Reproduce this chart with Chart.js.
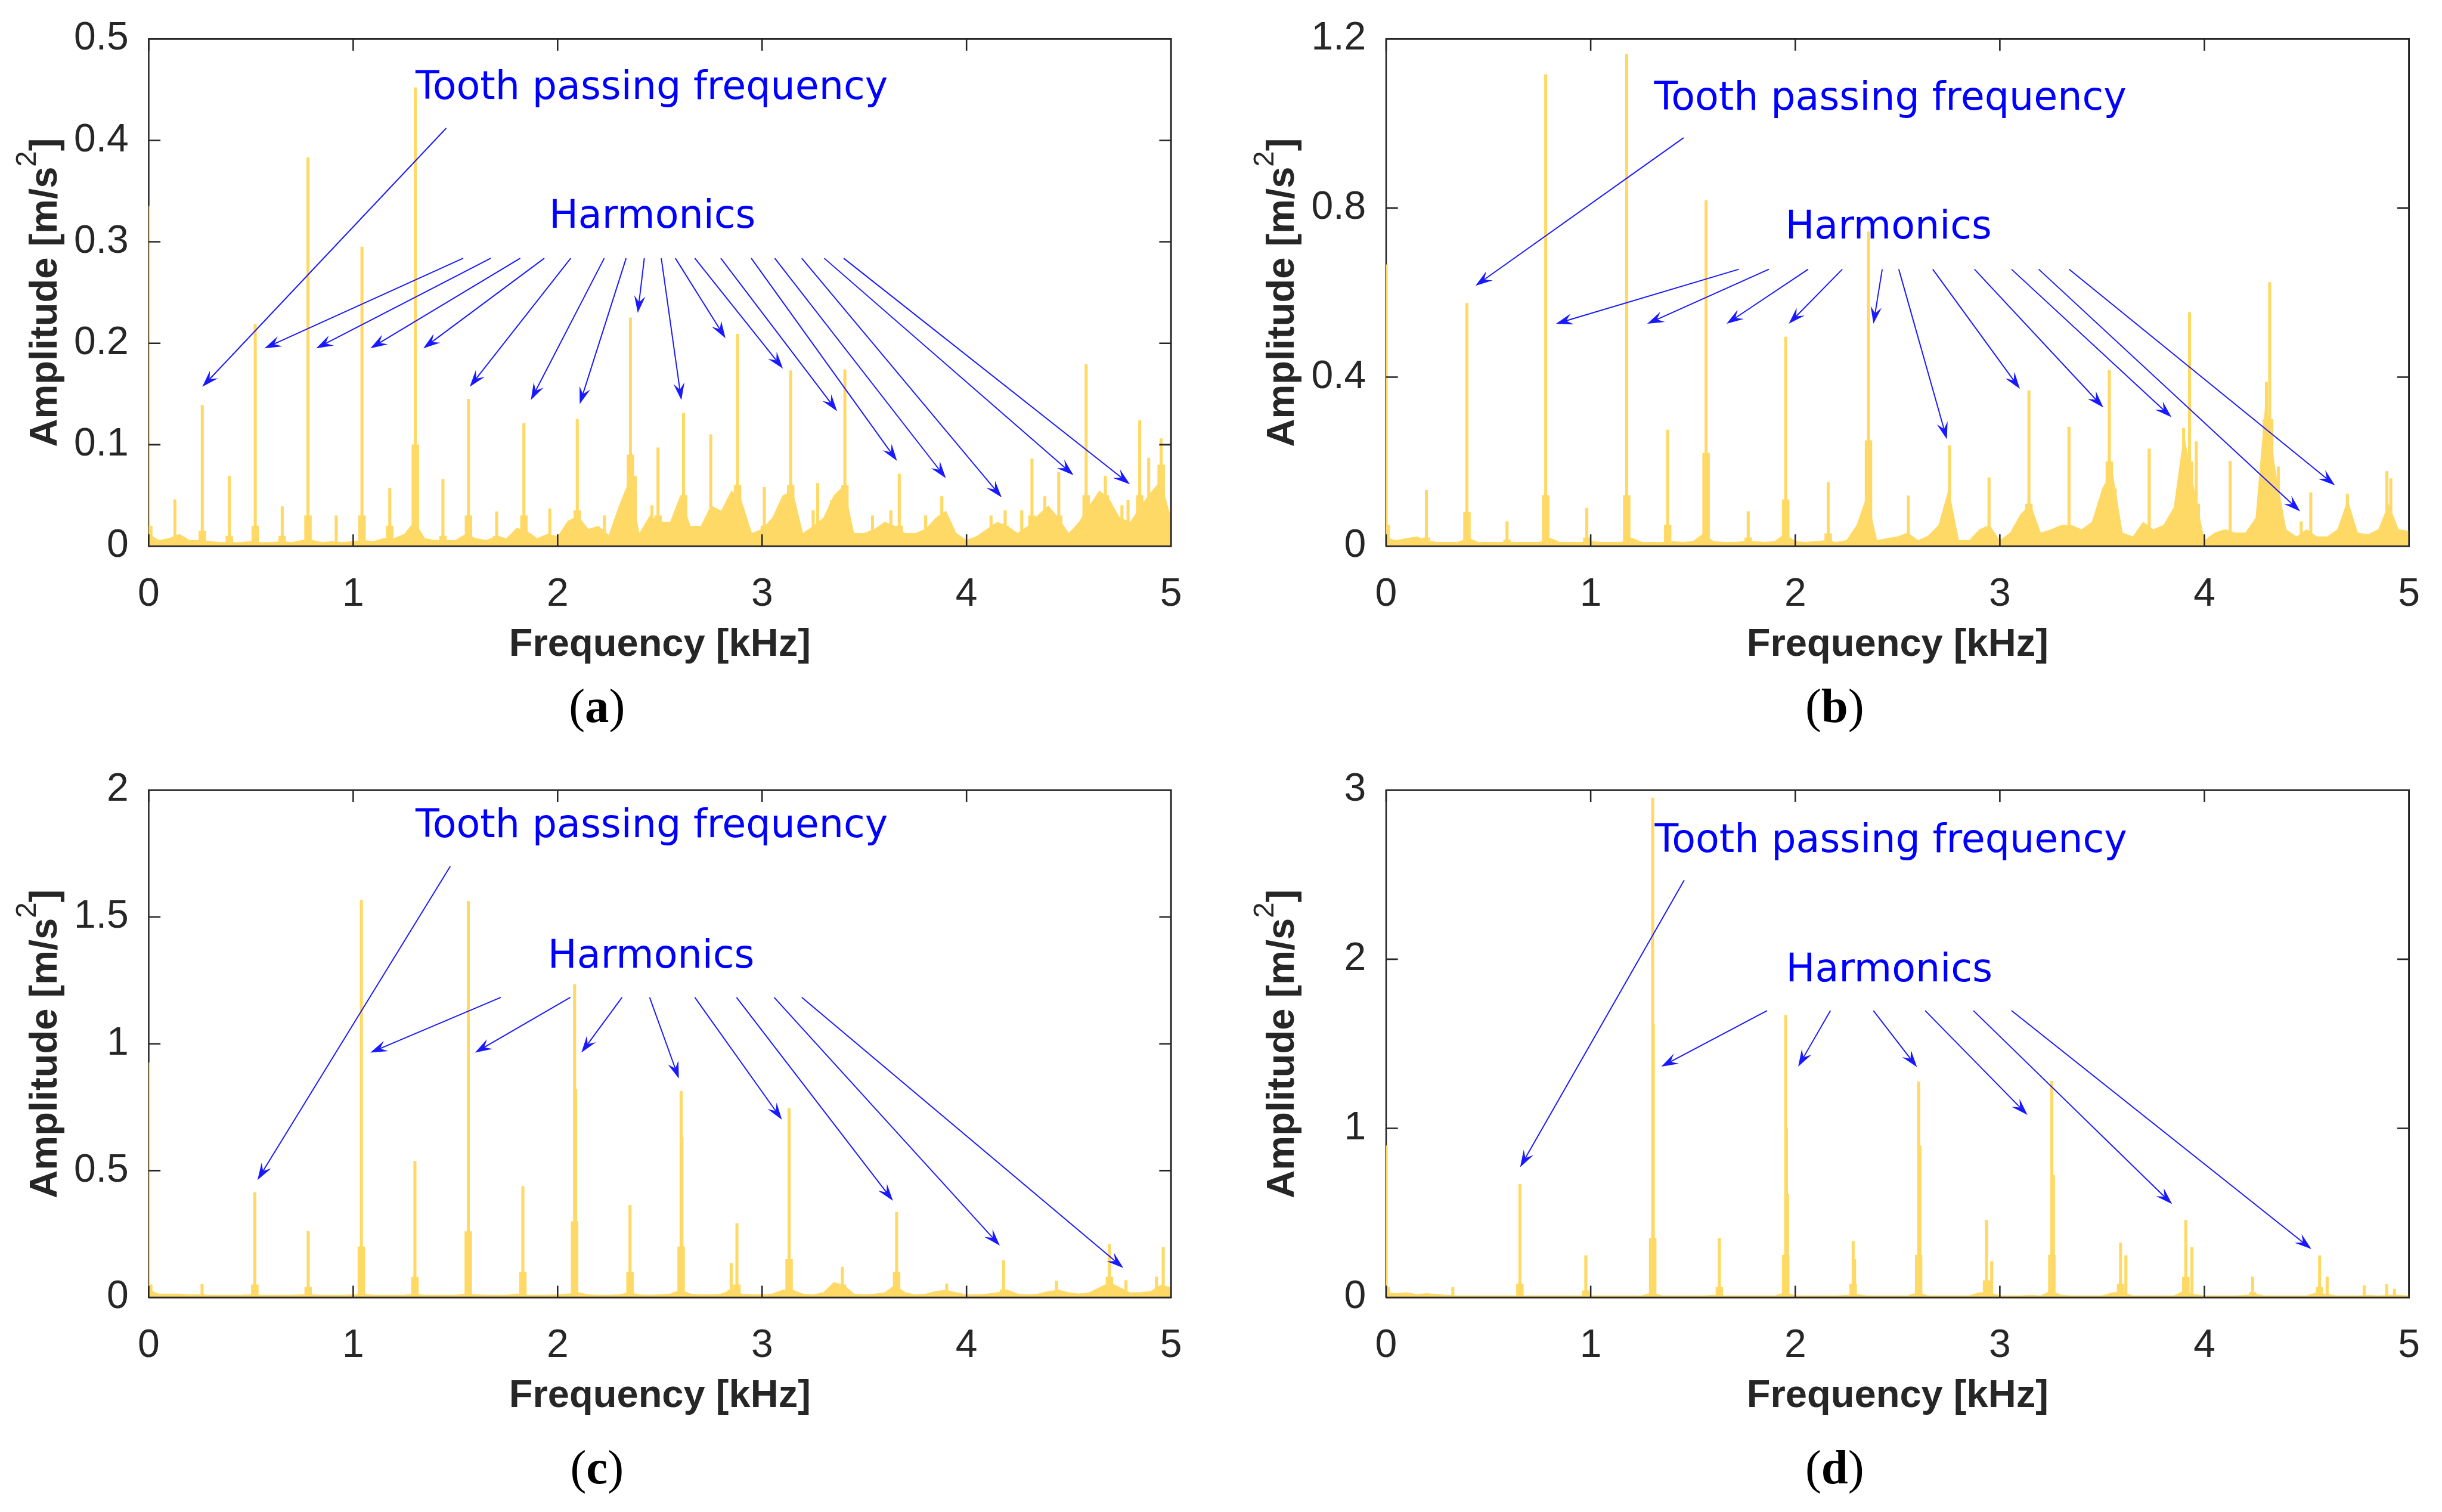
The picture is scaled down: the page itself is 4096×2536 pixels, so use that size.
<!DOCTYPE html>
<html>
<head>
<meta charset="utf-8">
<title>Spectra</title>
<script src="https://cdn.jsdelivr.net/npm/chart.js@4.4.1/dist/chart.umd.min.js"></script>
<style>
html,body{margin:0;padding:0;background:#ffffff;}
body{width:4096px;height:2536px;position:relative;overflow:hidden;}
canvas{position:absolute;}
</style>
</head>
<body>
<canvas id="pa" width="2020" height="1268"></canvas>
<canvas id="pb" width="2020" height="1268"></canvas>
<canvas id="pc" width="2020" height="1268"></canvas>
<canvas id="pd" width="2020" height="1268"></canvas>
<script>
const S = 0.986;
const FLOOR_STEP = 0.05; // kHz between floor samples (floor arrays start at 0 kHz)

// ---------- tick labels ----------
const xTicks = [0, 1, 2, 3, 4, 5];
const aYTicks = [0, 0.1, 0.2, 0.3, 0.4, 0.5];
const bYTicks = [0, 0.4, 0.8, 1.2];
const cYTicks = [0, 0.5, 1, 1.5, 2];
const dYTicks = [0, 1, 2, 3];

// ---------- texts ----------
const X_TITLE = 'Frequency [kHz]';
const Y_TITLE_MAIN = 'Amplitude [m/s';
const Y_TITLE_SUP = '2';
const Y_TITLE_END = ']';
const TOOTH_TEXT = 'Tooth passing frequency';
const HARM_TEXT = 'Harmonics';

// ---------- panel (a) ----------
const aFloor = [0.012,0.006,0.008,0.012,0.006,0.006,0.005,0.004,0.004,0.004,
0.005,0.004,0.004,0.005,0.004,0.006,0.006,0.004,0.005,0.004,
0.005,0.006,0.005,0.008,0.008,0.012,0.025,0.008,0.006,0.006,
0.006,0.012,0.008,0.006,0.010,0.008,0.018,0.015,0.008,0.012,
0.010,0.025,0.030,0.017,0.020,0.011,0.040,0.065,0.013,0.030,
0.024,0.024,0.050,0.020,0.020,0.040,0.035,0.055,0.045,0.013,
0.017,0.028,0.050,0.055,0.013,0.020,0.028,0.050,0.060,0.013,
0.013,0.017,0.024,0.020,0.013,0.013,0.017,0.028,0.035,0.013,
0.006,0.010,0.017,0.024,0.020,0.013,0.020,0.031,0.040,0.028,
0.013,0.024,0.040,0.055,0.046,0.028,0.024,0.039,0.053,0.065,
0.028];
const aPeakFreq = [0.000,0.128,0.262,0.394,0.521,0.653,0.779,0.917,1.043,1.179,1.304,1.439,1.564,1.702,1.835,1.962,2.096,2.229,2.356,2.380,2.461,2.491,2.616,2.749,2.880,3.011,3.140,3.250,3.272,3.340,3.405,3.540,3.630,3.671,3.800,3.879,4.120,4.189,4.270,4.320,4.383,4.451,4.585,4.679,4.760,4.790,4.847,4.891,4.952];
const aPeakAmp = [0.335,0.046,0.139,0.069,0.219,0.039,0.383,0.030,0.295,0.057,0.452,0.066,0.145,0.034,0.121,0.037,0.125,0.030,0.225,0.069,0.040,0.097,0.131,0.110,0.209,0.058,0.173,0.035,0.062,0.045,0.174,0.030,0.035,0.071,0.030,0.049,0.030,0.035,0.035,0.086,0.049,0.073,0.179,0.069,0.040,0.045,0.124,0.087,0.106];
const aPeakBase = [0.02,0,0.015,0.01,0.02,0.01,0.03,0,0.03,0.02,0.10,0.01,0.03,0.01,0.03,0.01,0.035,0,0.09,0,0,0.03,0.05,0.03,0.06,0.02,0.06,0,0.02,0,0.06,0,0,0.02,0,0.03,0,0.02,0,0.03,0.03,0.03,0.05,0.05,0,0,0.05,0.04,0.08];
const aToothTextAt = [1.305, 0.441];
const aHarmTextAt = [1.958, 0.314];
const aToothArrow = [1.455, 0.412, 0.262, 0.157];
const aHarmFromY = 0.2838;
const aHarmFromX = [1.538,1.673,1.817,1.935,2.064,2.228,2.335,2.424,2.507,2.576,2.671,2.798,2.947,3.062,3.194,3.304,3.399];
const aHarmTo = [[0.566,0.195],[0.819,0.195],[1.084,0.195],[1.343,0.195],[1.570,0.157],[1.869,0.144],[2.108,0.140],[2.392,0.230],[2.605,0.144],[2.821,0.205],[3.102,0.175],[3.367,0.133],[3.660,0.084],[3.899,0.067],[4.172,0.048],[4.523,0.070],[4.799,0.061]];

// ---------- panel (b) ----------
const bFloor = [0.020,0.014,0.019,0.023,0.014,0.010,0.010,0.010,0.020,0.010,
0.010,0.010,0.010,0.010,0.010,0.010,0.020,0.010,0.010,0.010,
0.012,0.010,0.010,0.010,0.020,0.010,0.010,0.010,0.012,0.010,
0.012,0.030,0.012,0.010,0.010,0.012,0.012,0.010,0.012,0.030,
0.012,0.010,0.012,0.014,0.010,0.014,0.050,0.120,0.014,0.019,
0.023,0.032,0.014,0.025,0.050,0.136,0.014,0.014,0.040,0.050,
0.014,0.032,0.075,0.100,0.032,0.040,0.050,0.050,0.040,0.058,
0.136,0.180,0.032,0.023,0.058,0.040,0.050,0.092,0.266,0.136,
0.014,0.032,0.040,0.032,0.032,0.067,0.353,0.171,0.040,0.023,
0.040,0.023,0.023,0.040,0.110,0.032,0.028,0.040,0.100,0.040,
0.036];
const bPeakFreq = [0.000,0.197,0.395,0.591,0.780,0.981,1.176,1.376,1.564,1.770,1.953,2.161,2.358,2.553,2.754,2.947,3.142,3.338,3.535,3.564,3.730,3.898,3.927,3.960,4.126,4.303,4.319,4.361,4.473,4.520,4.699,4.892,4.911];
const bPeakAmp = [0.666,0.132,0.575,0.058,1.116,0.090,1.164,0.275,0.818,0.082,0.495,0.151,0.744,0.119,0.238,0.162,0.368,0.282,0.416,0.136,0.230,0.279,0.553,0.247,0.201,0.388,0.624,0.188,0.058,0.127,0.123,0.177,0.160];
const bPeakBase = [0.05,0.02,0.08,0.015,0.12,0.02,0.12,0.05,0.22,0.02,0.11,0.03,0.25,0.02,0.08,0.03,0.10,0.04,0.20,0,0.03,0.15,0.20,0.10,0.03,0.30,0.30,0.05,0,0.02,0.05,0.05,0.03];
const bToothTextAt = [1.310, 1.032];
const bHarmTextAt = [1.951, 0.728];
const bToothArrow = [1.454, 0.966, 0.437, 0.616];
const bHarmFromY = 0.655;
const bHarmFromX = [1.724,1.871,2.063,2.230,2.425,2.506,2.672,2.876,3.057,3.190,3.339];
const bHarmTo = [[0.830,0.526],[1.276,0.526],[1.664,0.526],[1.968,0.526],[2.382,0.526],[2.741,0.253],[3.098,0.372],[3.506,0.328],[3.839,0.305],[4.468,0.082],[4.638,0.144]];

// ---------- panel (c) ----------
const cFloor = [0.030,0.015,0.015,0.015,0.012,0.012,0.010,0.010,0.010,0.010,
0.012,0.010,0.010,0.010,0.010,0.012,0.012,0.010,0.010,0.010,
0.012,0.015,0.010,0.010,0.010,0.010,0.015,0.010,0.010,0.010,
0.010,0.015,0.012,0.010,0.010,0.010,0.015,0.010,0.010,0.010,
0.012,0.015,0.020,0.012,0.010,0.010,0.012,0.020,0.012,0.010,
0.012,0.015,0.030,0.015,0.012,0.012,0.015,0.030,0.015,0.012,
0.012,0.015,0.030,0.030,0.015,0.012,0.020,0.060,0.050,0.015,
0.012,0.015,0.020,0.050,0.020,0.012,0.015,0.025,0.030,0.020,
0.012,0.012,0.015,0.020,0.030,0.015,0.012,0.015,0.025,0.030,
0.020,0.015,0.020,0.040,0.060,0.040,0.020,0.020,0.025,0.050,
0.040];
const cPeakFreq = [0.000,0.261,0.519,0.780,1.040,1.302,1.563,1.830,2.083,2.088,2.354,2.604,2.608,2.849,2.877,3.132,3.393,3.658,3.903,4.181,4.440,4.699,4.780,4.929,4.962];
const cPeakAmp = [0.925,0.051,0.414,0.261,1.567,0.537,1.562,0.438,1.234,0.820,0.364,0.813,0.632,0.135,0.292,0.745,0.120,0.337,0.054,0.145,0.065,0.210,0.067,0.081,0.197];
const cPeakBase = [0.05,0.01,0.05,0.04,0.20,0.08,0.26,0.10,0.30,0,0.10,0.20,0,0.03,0.05,0.15,0.05,0.10,0.02,0.03,0.02,0.08,0.02,0.02,0.03];
const cToothTextAt = [1.305, 1.814];
const cHarmTextAt = [1.952, 1.301];
const cToothArrow = [1.475, 1.700, 0.532, 0.463];
const cHarmFromY = 1.183;
const cHarmFromX = [1.722,2.062,2.315,2.450,2.671,2.875,3.059,3.194];
const cHarmTo = [[1.084,0.965],[1.596,0.965],[2.116,0.965],[2.593,0.863],[3.097,0.701],[3.640,0.381],[4.163,0.204],[4.767,0.116]];

// ---------- panel (d) ----------
const dFloor = [0.030,0.025,0.030,0.020,0.025,0.020,0.015,0.012,0.012,0.012,
0.012,0.012,0.012,0.012,0.012,0.012,0.012,0.012,0.012,0.012,
0.012,0.012,0.012,0.012,0.012,0.012,0.030,0.012,0.012,0.012,
0.012,0.012,0.015,0.012,0.012,0.012,0.012,0.012,0.012,0.030,
0.012,0.012,0.012,0.012,0.012,0.015,0.020,0.012,0.012,0.012,
0.012,0.012,0.030,0.012,0.012,0.012,0.012,0.012,0.030,0.030,
0.012,0.012,0.012,0.015,0.012,0.040,0.015,0.012,0.012,0.012,
0.012,0.030,0.030,0.012,0.012,0.012,0.012,0.012,0.040,0.020,
0.012,0.012,0.012,0.012,0.015,0.020,0.012,0.012,0.012,0.012,
0.012,0.030,0.020,0.012,0.012,0.012,0.015,0.012,0.015,0.015,
0.012];
const dPeakFreq = [0.000,0.326,0.654,0.976,1.303,1.306,1.629,1.953,1.957,1.962,2.283,2.290,2.603,2.609,2.935,2.960,3.254,3.262,3.590,3.616,3.909,3.939,4.236,4.563,4.600,4.781,4.891,4.929];
const dPeakAmp = [0.897,0.060,0.669,0.248,2.955,1.616,0.350,1.669,1.000,0.610,0.332,0.224,1.275,0.897,0.458,0.213,1.279,0.724,0.322,0.248,0.458,0.295,0.122,0.248,0.122,0.070,0.077,0.050];
const dPeakBase = [0.06,0,0.08,0.04,0.35,0,0.06,0.25,0,0,0.08,0,0.25,0,0.10,0,0.25,0,0.08,0,0.12,0,0.03,0.06,0,0,0,0];
const dToothTextAt = [1.313, 2.635];
const dHarmTextAt = [1.954, 1.869];
const dToothArrow = [1.457, 2.468, 0.655, 0.770];
const dHarmFromY = 1.696;
const dHarmFromX = [1.862,2.172,2.382,2.635,2.871,3.057];
const dHarmTo = [[1.345,1.365],[2.014,1.365],[2.595,1.362],[3.135,1.079],[3.842,0.552],[4.523,0.286]];

// ---------- styles ----------
const YELLOW = '#FFD966';
const AXIS = '#262626';
const BLUE = 'rgb(0,0,255)';
const ARROW_BLUE = 'rgb(25,25,255)';
const SANS = '"Liberation Sans", Arial, Helvetica, sans-serif';
const ANNOT_FONT = '"DejaVu Sans", Verdana, sans-serif';
const SERIF = '"Liberation Serif", "Times New Roman", serif';

function drawArrow(ctx, p1, p2) {
  const L = 29 * S, W = 9.5 * S, N = 0.62;
  const ang = Math.atan2(p2[1] - p1[1], p2[0] - p1[0]);
  ctx.beginPath();
  ctx.moveTo(p1[0], p1[1]);
  ctx.lineTo(p2[0] - Math.cos(ang) * L * N, p2[1] - Math.sin(ang) * L * N);
  ctx.stroke();
  ctx.save();
  ctx.translate(p2[0], p2[1]);
  ctx.rotate(ang);
  ctx.beginPath();
  ctx.moveTo(0, 0);
  ctx.lineTo(-L, -W);
  ctx.lineTo(-L * N, 0);
  ctx.lineTo(-L, W);
  ctx.closePath();
  ctx.fill();
  ctx.restore();
}

function makePanel(cfg) {
  const canvas = document.getElementById(cfg.id);
  canvas.style.left = cfg.cx + 'px';
  canvas.style.top = cfg.cy + 'px';
  const W = canvas.width, H = canvas.height;
  const L = cfg.geo[0] * S - cfg.cx, R = cfg.geo[1] * S - cfg.cx;
  const T = cfg.geo[2] * S - cfg.cy, B = cfg.geo[3] * S - cfg.cy;
  const XH = 200;
  const tickFont = { family: SANS, size: 67 * S };

  const deco = {
    id: 'deco_' + cfg.id,
    beforeDatasetsDraw(chart) {
      const a = chart.chartArea, ctx = chart.ctx;
      ctx.save();
      ctx.strokeStyle = AXIS; ctx.lineWidth = 2.6 * S;
      ctx.strokeRect(a.left, a.top, a.right - a.left, a.bottom - a.top);
      ctx.restore();
    },
    afterDatasetsDraw(chart) {
      const a = chart.chartArea, ctx = chart.ctx;
      const xs = chart.scales.x, ys = chart.scales.y;
      ctx.save();
      ctx.strokeStyle = AXIS; ctx.lineWidth = 2.6 * S;
      ctx.beginPath();
      ctx.moveTo(a.left, a.bottom); ctx.lineTo(a.right, a.bottom); ctx.lineTo(a.right, a.top); ctx.lineTo(a.left, a.top);
      const tl = 20 * S;
      xs.ticks.forEach(t => {
        const x = xs.getPixelForValue(t.value);
        ctx.moveTo(x, a.bottom); ctx.lineTo(x, a.bottom - tl);
        ctx.moveTo(x, a.top); ctx.lineTo(x, a.top + tl);
      });
      ys.ticks.forEach(t => {
        const y = ys.getPixelForValue(t.value);
        ctx.moveTo(a.left, y); ctx.lineTo(a.left + tl, y);
        ctx.moveTo(a.right, y); ctx.lineTo(a.right - tl, y);
      });
      ctx.stroke();
      ctx.restore();

      // annotations
      const P = (x, y) => [xs.getPixelForValue(x), ys.getPixelForValue(y)];
      ctx.save();
      ctx.fillStyle = BLUE;
      ctx.font = (66 * S) + 'px ' + ANNOT_FONT;
      ctx.textAlign = 'left'; ctx.textBaseline = 'alphabetic';
      let p = P(cfg.toothText[0], cfg.toothText[1]);
      ctx.fillText(TOOTH_TEXT, p[0], p[1]);
      p = P(cfg.harmText[0], cfg.harmText[1]);
      ctx.fillText(HARM_TEXT, p[0], p[1]);
      ctx.strokeStyle = ARROW_BLUE; ctx.fillStyle = ARROW_BLUE; ctx.lineWidth = 2 * S;
      drawArrow(ctx, P(cfg.toothArrow[0], cfg.toothArrow[1]), P(cfg.toothArrow[2], cfg.toothArrow[3]));
      cfg.harmFromX.forEach((fx, i) => {
        drawArrow(ctx, P(fx, cfg.harmFromY), P(cfg.harmTo[i][0], cfg.harmTo[i][1]));
      });
      ctx.restore();
    },
    afterDraw(chart) {
      const a = chart.chartArea, ctx = chart.ctx;
      ctx.save();
      ctx.fillStyle = AXIS;
      // x title
      ctx.font = 'bold ' + (66 * S) + 'px ' + SANS;
      ctx.textAlign = 'center'; ctx.textBaseline = 'alphabetic';
      ctx.fillText(X_TITLE, (a.left + a.right) / 2, a.bottom + 187 * S);
      // y title (rotated, superscript 2)
      const mainFont = 'bold ' + (66 * S) + 'px ' + SANS;
      const supFont = (48 * S) + 'px ' + SANS;
      ctx.font = mainFont; const w1 = ctx.measureText(Y_TITLE_MAIN).width; const w3 = ctx.measureText(Y_TITLE_END).width;
      ctx.font = supFont; const w2 = ctx.measureText(Y_TITLE_SUP).width;
      const tw = w1 + w2 + w3;
      ctx.translate(a.left - 157 * S, (a.top + a.bottom) / 2);
      ctx.rotate(-Math.PI / 2);
      ctx.textAlign = 'left';
      ctx.font = mainFont; ctx.fillText(Y_TITLE_MAIN, -tw / 2, 0);
      ctx.font = supFont; ctx.fillText(Y_TITLE_SUP, -tw / 2 + w1, -35 * S);
      ctx.font = mainFont; ctx.fillText(Y_TITLE_END, -tw / 2 + w1 + w2, 0);
      ctx.restore();
      // caption
      ctx.save();
      ctx.fillStyle = '#000000';
      ctx.textBaseline = 'alphabetic'; ctx.textAlign = 'left';
      const fReg = (82 * S) + 'px ' + SERIF, fBold = 'bold ' + (82 * S) + 'px ' + SERIF;
      ctx.font = fReg; const pw1 = ctx.measureText('(').width, pw3 = ctx.measureText(')').width;
      ctx.font = fBold; const pw2 = ctx.measureText(cfg.letter).width;
      const cx = (a.left + a.right) / 2 - 107 * S - (pw1 + pw2 + pw3) / 2;
      const cy = a.bottom + cfg.capDy * S;
      ctx.font = fReg; ctx.fillText('(', cx, cy);
      ctx.font = fBold; ctx.fillText(cfg.letter, cx + pw1, cy);
      ctx.font = fReg; ctx.fillText(')', cx + pw1 + pw2, cy);
      ctx.restore();
    }
  };

  new Chart(canvas.getContext('2d'), {
    type: 'bar',
    data: {
      datasets: [
        { type: 'line', data: cfg.floor.map((v, i) => ({ x: i * FLOOR_STEP, y: v })),
          fill: 'origin', backgroundColor: YELLOW, borderWidth: 0, pointRadius: 0, tension: 0, order: 3 },
        { data: cfg.pf.map((f, i) => ({ x: f, y: cfg.pb[i] })).filter(q => q.y > 0),
          backgroundColor: YELLOW, barThickness: 12 * S, stack: 's', order: 2, borderWidth: 0 },
        { data: cfg.pf.map((f, i) => ({ x: f, y: cfg.pa[i] })),
          backgroundColor: YELLOW, barThickness: 4.5 * S, stack: 's', order: 1, borderWidth: 0 }
      ]
    },
    options: {
      responsive: false, animation: false, devicePixelRatio: 1,
      layout: { padding: { left: 0, top: T, right: W - R, bottom: H - B - XH } },
      plugins: { legend: { display: false }, tooltip: { enabled: false } },
      scales: {
        x: {
          type: 'linear', min: 0, max: 5, offset: false, stacked: true,
          grid: { display: false }, border: { display: false },
          afterBuildTicks: s => { s.ticks = xTicks.map(v => ({ value: v })); },
          ticks: { padding: 34, font: tickFont, color: AXIS, maxRotation: 0, autoSkip: false,
                   callback: v => String(Number(Number(v).toFixed(2))) },
          afterFit: s => { s.height = XH; }
        },
        y: {
          type: 'linear', min: 0, max: cfg.yTicks[cfg.yTicks.length - 1], stacked: false,
          grid: { display: false }, border: { display: false },
          afterBuildTicks: s => { s.ticks = cfg.yTicks.map(v => ({ value: v })); },
          ticks: { padding: 26 * S, font: tickFont, color: AXIS, autoSkip: false,
                   callback: v => String(Number(Number(v).toFixed(2))) },
          afterFit: s => { s.width = L; }
        }
      }
    },
    plugins: [deco]
  });
}

makePanel({ id: 'pa', cx: 0, cy: 0, geo: [253, 1992, 48, 929], letter: 'a', capDy: 299.5,
  yTicks: aYTicks, floor: aFloor, pf: aPeakFreq, pa: aPeakAmp, pb: aPeakBase,
  toothText: aToothTextAt, harmText: aHarmTextAt, toothArrow: aToothArrow,
  harmFromY: aHarmFromY, harmFromX: aHarmFromX, harmTo: aHarmTo });
makePanel({ id: 'pb', cx: 2075, cy: 0, geo: [2358, 4098, 48, 929], letter: 'b', capDy: 299.5,
  yTicks: bYTicks, floor: bFloor, pf: bPeakFreq, pa: bPeakAmp, pb: bPeakBase,
  toothText: bToothTextAt, harmText: bHarmTextAt, toothArrow: bToothArrow,
  harmFromY: bHarmFromY, harmFromX: bHarmFromX, harmTo: bHarmTo });
makePanel({ id: 'pc', cx: 0, cy: 1260, geo: [253, 1992, 1326, 2207], letter: 'c', capDy: 316.5,
  yTicks: cYTicks, floor: cFloor, pf: cPeakFreq, pa: cPeakAmp, pb: cPeakBase,
  toothText: cToothTextAt, harmText: cHarmTextAt, toothArrow: cToothArrow,
  harmFromY: cHarmFromY, harmFromX: cHarmFromX, harmTo: cHarmTo });
makePanel({ id: 'pd', cx: 2075, cy: 1260, geo: [2358, 4098, 1326, 2207], letter: 'd', capDy: 316.5,
  yTicks: dYTicks, floor: dFloor, pf: dPeakFreq, pa: dPeakAmp, pb: dPeakBase,
  toothText: dToothTextAt, harmText: dHarmTextAt, toothArrow: dToothArrow,
  harmFromY: dHarmFromY, harmFromX: dHarmFromX, harmTo: dHarmTo });
</script>
</body>
</html>
